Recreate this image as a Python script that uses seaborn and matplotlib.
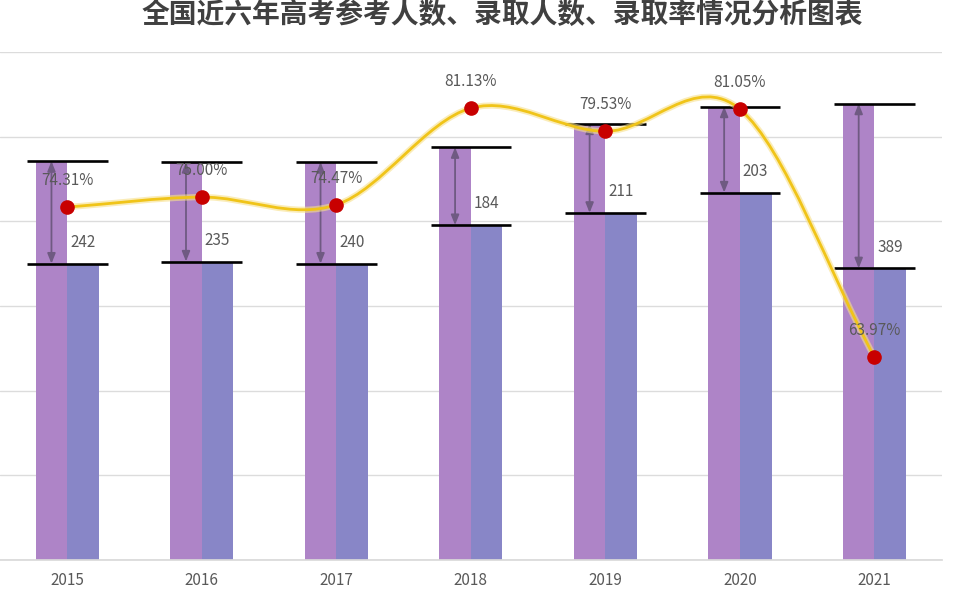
import numpy as np
import pandas as pd
import matplotlib
matplotlib.use("Agg")
import matplotlib.pyplot as plt
from matplotlib.path import Path
from matplotlib.patches import PathPatch
import seaborn as sns

years = ["2015", "2016", "2017", "2018", "2019", "2020", "2021"]
applicants = [942, 940, 940, 975, 1031, 1071, 1078]   # 参考人数 (万)
admitted = [700, 705, 700, 791, 820, 868, 689]        # 录取人数 (万)
rates = [74.31, 75.00, 74.47, 81.13, 79.53, 81.05, 63.97]  # 录取率 %

title = "全国近六年高考参考人数、录取人数、录取率情况分析图表"

sns.set_theme(style="white")
plt.rcParams["font.family"] = ["Noto Sans CJK SC", "DejaVu Sans"]

purple = "#ae84c7"
blue = "#8886c7"
gray_txt = "#595959"

df = pd.DataFrame({
    "year": years * 2,
    "value": applicants + admitted,
    "series": ["参考人数"] * len(years) + ["录取人数"] * len(years),
})

fig = plt.figure(figsize=(9.6, 6), dpi=100)
ax = fig.add_axes([0.0, 0.0667, 0.981, 0.8467])

bar_w = 0.47
sns.barplot(data=df, x="year", y="value", hue="series", palette=[purple, blue],
            width=bar_w, saturation=1, errorbar=None, legend=False, ax=ax,
            linewidth=0, zorder=2)
ax.set_xlim(-0.5, len(years) - 0.5)
ax.set_ylim(0, 1200)
ax.set_yticks(range(0, 1201, 200))
ax.set_yticklabels([])
ax.grid(axis="y", color="#dcdcdc", lw=1)
ax.set_axisbelow(True)
ax.set_xlabel("")
ax.set_ylabel("")
ax.tick_params(axis="x", length=0, pad=9, labelsize=11, labelcolor=gray_txt)
ax.tick_params(axis="y", length=0)
for s in ["top", "left", "right"]:
    ax.spines[s].set_visible(False)
ax.spines["bottom"].set_color("#d9d9d9")

x = np.arange(len(years))
off = bar_w / 4

# 上下横线 + 差值箭头
ax.hlines(applicants, x - 0.3, x + 0.3, color="black", lw=1.9, zorder=4)
ax.hlines(admitted, x - 0.3, x + 0.3, color="black", lw=1.9, zorder=4)
for i in range(len(years)):
    ax.annotate("", xy=(x[i] - off, admitted[i]), xytext=(x[i] - off, applicants[i]),
                arrowprops=dict(arrowstyle="<|-|>,head_length=0.5,head_width=0.2",
                                color="#6f5a82", lw=1.3, shrinkA=0, shrinkB=0),
                zorder=3)
    gap = applicants[i] - admitted[i]
    ax.text(x[i] + 0.02, admitted[i] + 50, str(gap), ha="left", va="center",
            fontsize=11, color=gray_txt, zorder=5)

# 录取率 平滑曲线
ax2 = ax.twinx()
ax2.set_ylim(50, 85)
ax2.set_yticks([])
for s in ax2.spines.values():
    s.set_visible(False)

pts = np.column_stack([x, rates]).astype(float)
n = len(pts)
tang = np.zeros_like(pts)
tang[1:-1] = (pts[2:] - pts[:-2]) / 2
tang[0] = pts[1] - pts[0]
tang[-1] = pts[-1] - pts[-2]
verts = [pts[0]]
codes = [Path.MOVETO]
for i in range(n - 1):
    verts += [pts[i] + tang[i] / 3, pts[i + 1] - tang[i + 1] / 3, pts[i + 1]]
    codes += [Path.CURVE4] * 3
path = Path(verts, codes)
ax2.add_patch(PathPatch(path, fill=False, edgecolor="#f7e08a", lw=4.5, alpha=0.6, zorder=3))
ax2.add_patch(PathPatch(path, fill=False, edgecolor="#f0c419", lw=2.0, zorder=4))
ax2.plot(x, rates, "o", color="#c80000", ms=9.5, zorder=5)
for i in range(n):
    ax2.annotate(f"{rates[i]:.2f}%", (x[i], rates[i]), xytext=(0, 19),
                 textcoords="offset points", ha="center", va="center",
                 fontsize=11, color=gray_txt, zorder=6)

fig.text(0.523, 0.998, title, ha="center", va="top", fontsize=20,
         color="#404040", fontweight="bold")

fig.savefig("out.png", dpi=100)
